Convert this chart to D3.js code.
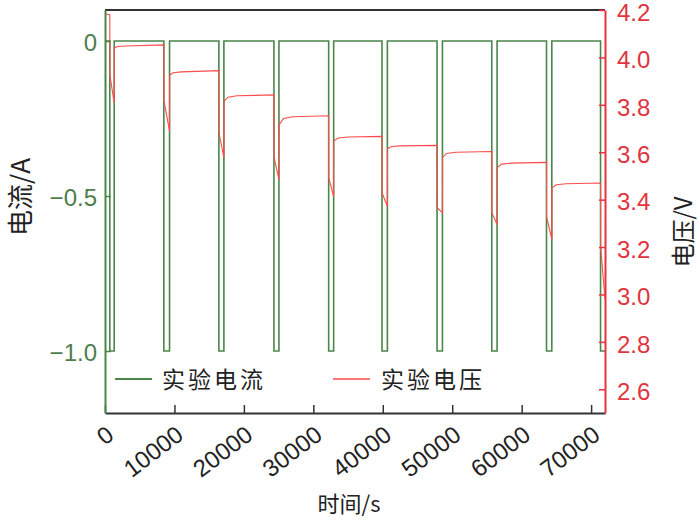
<!DOCTYPE html>
<html><head><meta charset="utf-8">
<script src="https://cdn.jsdelivr.net/npm/d3@7/dist/d3.min.js"></script>
<style>
html,body{margin:0;padding:0;background:#fff;}
svg{display:block;}
</style></head>
<body>
<svg id="chart" width="700" height="520"></svg>
<script>
// ---- data ----
const currentTime = [0, 692, 692, 1326, 1326,
  8473, 8473, 9294, 9294,
  16399, 16399, 17120, 17120,
  24325, 24325, 25045, 25045,
  32206, 32206, 32927, 32927,
  39887, 39887, 40665, 40665,
  47813, 47813, 48591, 48591,
  55695, 55695, 56459, 56459,
  63577, 63577, 64341, 64341,
  71359, 71359, 72000];
const currentValue = [0, 0, -1, -1, 0,
  0, -1, -1, 0,
  0, -1, -1, 0,
  0, -1, -1, 0,
  0, -1, -1, 0,
  0, -1, -1, 0,
  0, -1, -1, 0,
  0, -1, -1, 0,
  0, -1, -1, 0,
  0, -1, -1];
const voltageTime = [0, 692, 700, 1326, 1340, 1800, 3000, 8473,
  8480, 9294, 9310, 9800, 11000, 16399,
  16410, 17120, 17135, 17700, 19000, 24325,
  24335, 25045, 25060, 25700, 27000, 32206,
  32215, 32927, 32940, 33600, 35000, 39887,
  39895, 40665, 40680, 41300, 42500, 47813,
  47820, 48591, 48605, 49200, 50500, 55695,
  55705, 56459, 56475, 57100, 58500, 63577,
  63585, 64341, 64355, 65000, 66400, 71359,
  71370, 72000];
const voltageValue = [4.183, 4.180, 3.926, 3.808, 4.040, 4.046, 4.048, 4.053,
  3.821, 3.688, 3.925, 3.935, 3.939, 3.944,
  3.682, 3.577, 3.815, 3.832, 3.838, 3.842,
  3.581, 3.484, 3.715, 3.742, 3.750, 3.754,
  3.493, 3.413, 3.648, 3.660, 3.664, 3.667,
  3.429, 3.371, 3.615, 3.624, 3.627, 3.629,
  3.366, 3.345, 3.578, 3.595, 3.600, 3.603,
  3.345, 3.295, 3.535, 3.550, 3.554, 3.557,
  3.328, 3.232, 3.450, 3.463, 3.467, 3.470,
  3.202, 2.979];
const xTicks = [0, 10000, 20000, 30000, 40000, 50000, 60000, 70000];
const currentTicks = [0, -0.5, -1.0];
const currentTickLabels = ["0", "\u22120.5", "\u22121.0"];
const voltageTicks = [4.2, 4.0, 3.8, 3.6, 3.4, 3.2, 3.0, 2.8, 2.6];
const legendLabels = ["实验电流", "实验电压"];
const xTitle = "时间/s", yLeftTitle = "电流/A", yRightTitle = "电压/V";

// ---- layout ----
const L = 105, R = 605, T = 10, B = 413;
const green = "#4a854a", greenText = "#4d7d4d", red = "#ff4b4b", redAxis = "#e8333d", redText = "#e0343e";
const svg = d3.select("#chart");
const x = d3.scaleLinear().domain([0, 72000]).range([L, R]);
const yI = d3.scaleLinear().domain([-1.2, 0.1]).range([B, T]);
const yV = d3.scaleLinear().domain([2.5, 4.2]).range([B, T]);
const font = "'Liberation Sans', Arial, sans-serif";
const cjk = "'Noto Sans CJK SC', sans-serif";

// data lines
const curPts = currentTime.map((t, i) => [t, currentValue[i]]);
const volPts = voltageTime.map((t, i) => [t, voltageValue[i]]);
svg.append("path").datum(curPts)
  .attr("d", d3.line().x(d => x(d[0])).y(d => yI(d[1])))
  .attr("fill", "none").attr("stroke", green).attr("stroke-width", 1.6);
svg.append("path").datum(volPts)
  .attr("d", d3.line().x(d => x(d[0])).y(d => yV(d[1])))
  .attr("fill", "none").attr("stroke", red).attr("stroke-width", 1.1);

// top frame line
svg.append("line").attr("x1", L).attr("x2", R).attr("y1", T).attr("y2", T)
  .attr("stroke", "#333").attr("stroke-width", 2);

// bottom axis
const gx = svg.append("g").attr("transform", `translate(0,${B})`)
  .call(d3.axisBottom(x).tickValues(xTicks).tickFormat(d3.format("d")).tickSize(-8).tickSizeOuter(0));
gx.select(".domain").attr("stroke", "#333").attr("stroke-width", 2);
gx.selectAll(".tick line").attr("stroke", "#333").attr("stroke-width", 1.5);
gx.selectAll(".tick text").attr("x", 0).attr("y", 0).attr("dy", 0)
  .attr("transform", "translate(10,25) rotate(-37)").attr("text-anchor", "end")
  .attr("fill", "#222").style("font", `24px ${font}`);

// left axis
const gl = svg.append("g").attr("transform", `translate(${L},0)`)
  .call(d3.axisLeft(yI).tickValues(currentTicks).tickFormat((d, i) => currentTickLabels[i]).tickSize(-6).tickSizeOuter(0).tickPadding(8));
gl.select(".domain").attr("stroke", green).attr("stroke-width", 2);
gl.selectAll(".tick line").attr("stroke", green).attr("stroke-width", 1.5);
gl.selectAll(".tick text").attr("fill", greenText).attr("y", 2).style("font", `24px ${font}`);

// right axis
const gr = svg.append("g").attr("transform", `translate(${R},0)`)
  .call(d3.axisRight(yV).tickValues(voltageTicks).tickFormat(d3.format(".1f")).tickSize(-6).tickSizeOuter(0).tickPadding(12));
gr.select(".domain").attr("stroke", redAxis).attr("stroke-width", 2);
gr.selectAll(".tick line").attr("stroke", redAxis).attr("stroke-width", 1.5);
gr.selectAll(".tick text").attr("fill", redText).attr("y", 2.5).style("font", `24px ${font}`);

// titles
svg.append("text").attr("x", 349).attr("y", 512).attr("text-anchor", "middle")
  .style("font", `22px ${cjk}`).attr("fill", "#222").text(xTitle);
svg.append("text").attr("transform", "translate(30,197) rotate(-90)").attr("text-anchor", "middle")
  .style("font", `26px ${cjk}`).attr("fill", "#222").text(yLeftTitle);
svg.append("text").attr("transform", "translate(692,232) rotate(-90)").attr("text-anchor", "middle")
  .style("font", `24px ${cjk}`).attr("fill", "#222").text(yRightTitle);

// legend
const leg = [{x1: 115, x2: 152, tx: 162, c: green}, {x1: 333, x2: 370, tx: 381, c: red}];
leg.forEach((d, i) => {
  svg.append("line").attr("x1", d.x1).attr("x2", d.x2).attr("y1", 379).attr("y2", 379)
    .attr("stroke", d.c).attr("stroke-width", i === 0 ? 2 : 1.4);
  svg.append("text").attr("x", d.tx).attr("y", 388).style("font", `23px ${cjk}`)
    .style("letter-spacing", "3px").attr("fill", "#222").text(legendLabels[i]);
});
</script>
</body></html>
